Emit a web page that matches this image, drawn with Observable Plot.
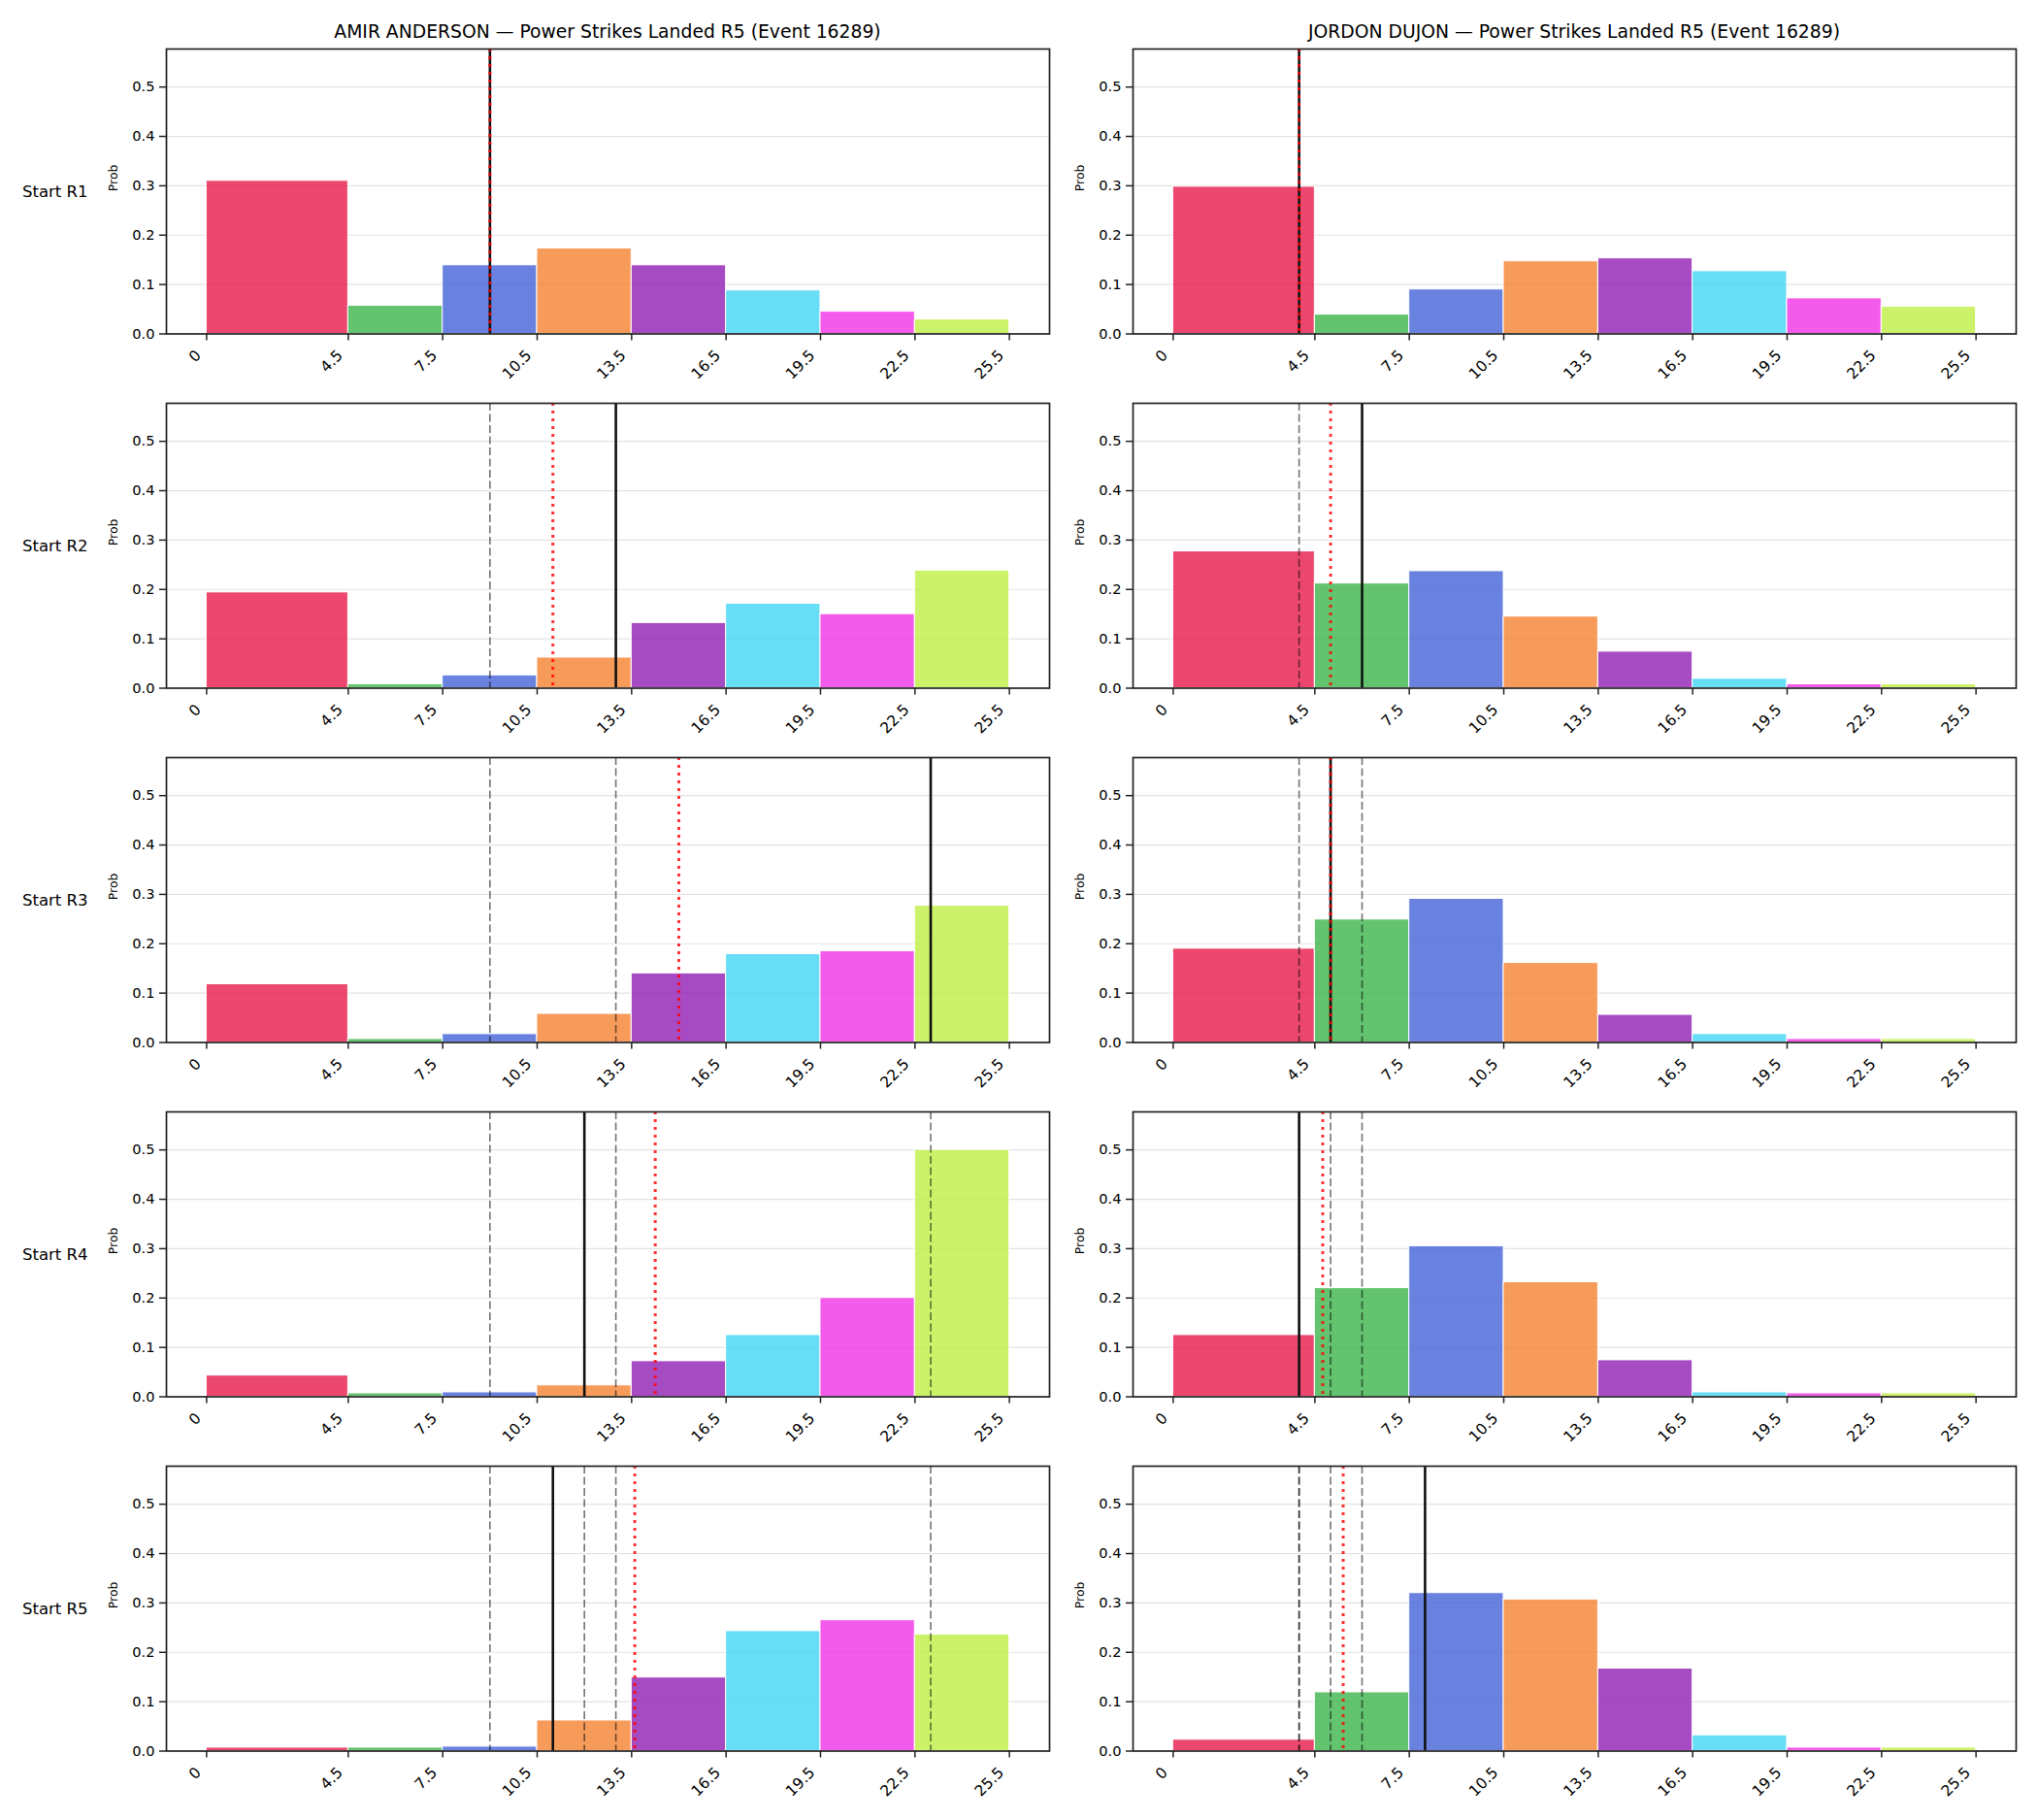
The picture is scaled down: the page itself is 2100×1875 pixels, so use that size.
<!DOCTYPE html>
<html>
<head>
<meta charset="utf-8">
<script src="https://cdn.jsdelivr.net/npm/d3@7"></script>
<script src="https://cdn.jsdelivr.net/npm/@observablehq/plot@0.6"></script>
<style>
  body { margin: 0; background: #fff; font-family: "DejaVu Sans", sans-serif; color: #000; }
  #chart { position: relative; width: 2100px; height: 1875px; background: #fff; overflow: hidden; }
  .col-title { position: absolute; font-size: 18.75px; white-space: nowrap; transform: translate(-50%, -50%); }
  .row-label { position: absolute; font-size: 16.5px; white-space: nowrap; transform: translateY(-50%); }
  #chart svg { position: absolute; overflow: visible; max-width: none; }
</style>
</head>
<body>
<div id="chart"></div>
<script>
// Fighters shown in the two columns
const fighters = ["AMIR ANDERSON", "JORDON DUJON"];
const titleSuffix = " — Power Strikes Landed R5 (Event 16289)";
const rowLabels = ["Start R1", "Start R2", "Start R3", "Start R4", "Start R5"];

// Histogram bin edges (power strikes landed) and bin colours
const binEdges = [0, 4.5, 7.5, 10.5, 13.5, 16.5, 19.5, 22.5, 25.5];
const binColors = ["#e6194b", "#3cb44b", "#4363d8", "#f58231", "#911eb4", "#42d4f4", "#f032e6", "#bfef45"];

// Probability per bin, one row per starting round
const amirProbs = [
  [0.310, 0.057, 0.139, 0.173, 0.139, 0.088, 0.045, 0.029],
  [0.194, 0.008, 0.026, 0.062, 0.132, 0.171, 0.150, 0.238],
  [0.118, 0.007, 0.017, 0.058, 0.140, 0.179, 0.185, 0.277],
  [0.043, 0.007, 0.009, 0.023, 0.072, 0.125, 0.200, 0.500],
  [0.007, 0.007, 0.009, 0.062, 0.149, 0.243, 0.265, 0.236]
];
const dujonProbs = [
  [0.298, 0.039, 0.090, 0.147, 0.153, 0.127, 0.072, 0.055],
  [0.277, 0.212, 0.237, 0.145, 0.074, 0.019, 0.008, 0.008],
  [0.190, 0.249, 0.291, 0.161, 0.056, 0.017, 0.007, 0.007],
  [0.125, 0.220, 0.305, 0.232, 0.074, 0.009, 0.007, 0.007],
  [0.023, 0.119, 0.320, 0.307, 0.167, 0.032, 0.007, 0.007]
];

// Strike count marked for each starting round (solid line); earlier rounds are dashed,
// and the dotted red line is the running average of the marked counts
const amirMarks = [9, 13, 23, 12, 11];
const dujonMarks = [4, 6, 5, 4, 8];

const yTicks = [0, 0.1, 0.2, 0.3, 0.4, 0.5];

// Panel layout
const colLeft = [171, 1167];
const axW = 910, axH = 293.5;
const rowTop0 = 50, rowStep = 365;
const mL = 100, mR = 8, mT = 8, mB = 64;
const tickFont = 14.6;

const chart = document.getElementById("chart");

function panel(rowProbs, marks, row) {
  const bins = rowProbs.map((p, i) => ({x1: binEdges[i], x2: binEdges[i + 1], p, color: binColors[i]}));
  const current = marks[row];
  const previous = marks.slice(0, row);
  const runMean = d3.mean(marks.slice(0, row + 1));
  return Plot.plot({
    width: mL + axW + mR,
    height: mT + axH + mB,
    marginLeft: mL, marginRight: mR, marginTop: mT, marginBottom: mB,
    x: {domain: [-1.275, 26.775]},
    y: {domain: [0, 0.577]},
    style: {fontFamily: "DejaVu Sans, sans-serif", fontSize: tickFont + "px", color: "black", background: "transparent", overflow: "visible"},
    marks: [
      Plot.ruleY(yTicks.slice(1), {stroke: "#e3e3e3", strokeWidth: 1.2}),
      Plot.rect(bins, {x1: "x1", x2: "x2", y1: 0, y2: "p", fill: d => d.color, fillOpacity: 0.8, stroke: "white", strokeWidth: 1, inset: 0}),
      Plot.ruleX(previous, {stroke: "black", strokeOpacity: 0.55, strokeWidth: 1.6, strokeDasharray: "8,3.5"}),
      Plot.ruleX([current], {stroke: "#111", strokeWidth: 2.6}),
      Plot.ruleX([runMean], {stroke: "red", strokeOpacity: 0.8, strokeWidth: 3, strokeDasharray: "3,5"}),
      Plot.frame({stroke: "#222", strokeWidth: 1.7}),
      // x ticks with rotated labels ending just under each tick
      Plot.axisX({ticks: binEdges, tickFormat: () => "", tickSize: 7, label: null, stroke: "#222", strokeWidth: 1.5}),
      Plot.text(binEdges, {x: d => d, text: d => String(d), frameAnchor: "bottom", rotate: -45, textAnchor: "end", dx: -5, dy: 23, fontSize: 15.5, fill: "black"}),
      Plot.axisY({ticks: yTicks, tickFormat: d => d.toFixed(1), tickSize: 7, tickPadding: 5, label: null, stroke: "#222", strokeWidth: 1.5, fontSize: tickFont}),
      Plot.text(["Prob"], {frameAnchor: "left", rotate: -90, dx: -55, fontSize: 12.5, fill: "black"})
    ]
  });
}

[amirProbs, dujonProbs].forEach((probs, col) => {
  const marks = col === 0 ? amirMarks : dujonMarks;
  const title = document.createElement("div");
  title.className = "col-title";
  title.textContent = fighters[col] + titleSuffix;
  title.style.left = (colLeft[col] + axW / 2) + "px";
  title.style.top = "31.7px";
  chart.appendChild(title);

  probs.forEach((rowProbs, row) => {
    const svg = panel(rowProbs, marks, row);
    svg.style.left = (colLeft[col] - mL) + "px";
    svg.style.top = (rowTop0 + row * rowStep - mT) + "px";
    chart.appendChild(svg);
  });
});

rowLabels.forEach((label, row) => {
  const el = document.createElement("div");
  el.className = "row-label";
  el.textContent = label;
  el.style.left = "23px";
  el.style.top = (rowTop0 + row * rowStep + axH / 2) + "px";
  chart.appendChild(el);
});
</script>
</body>
</html>
